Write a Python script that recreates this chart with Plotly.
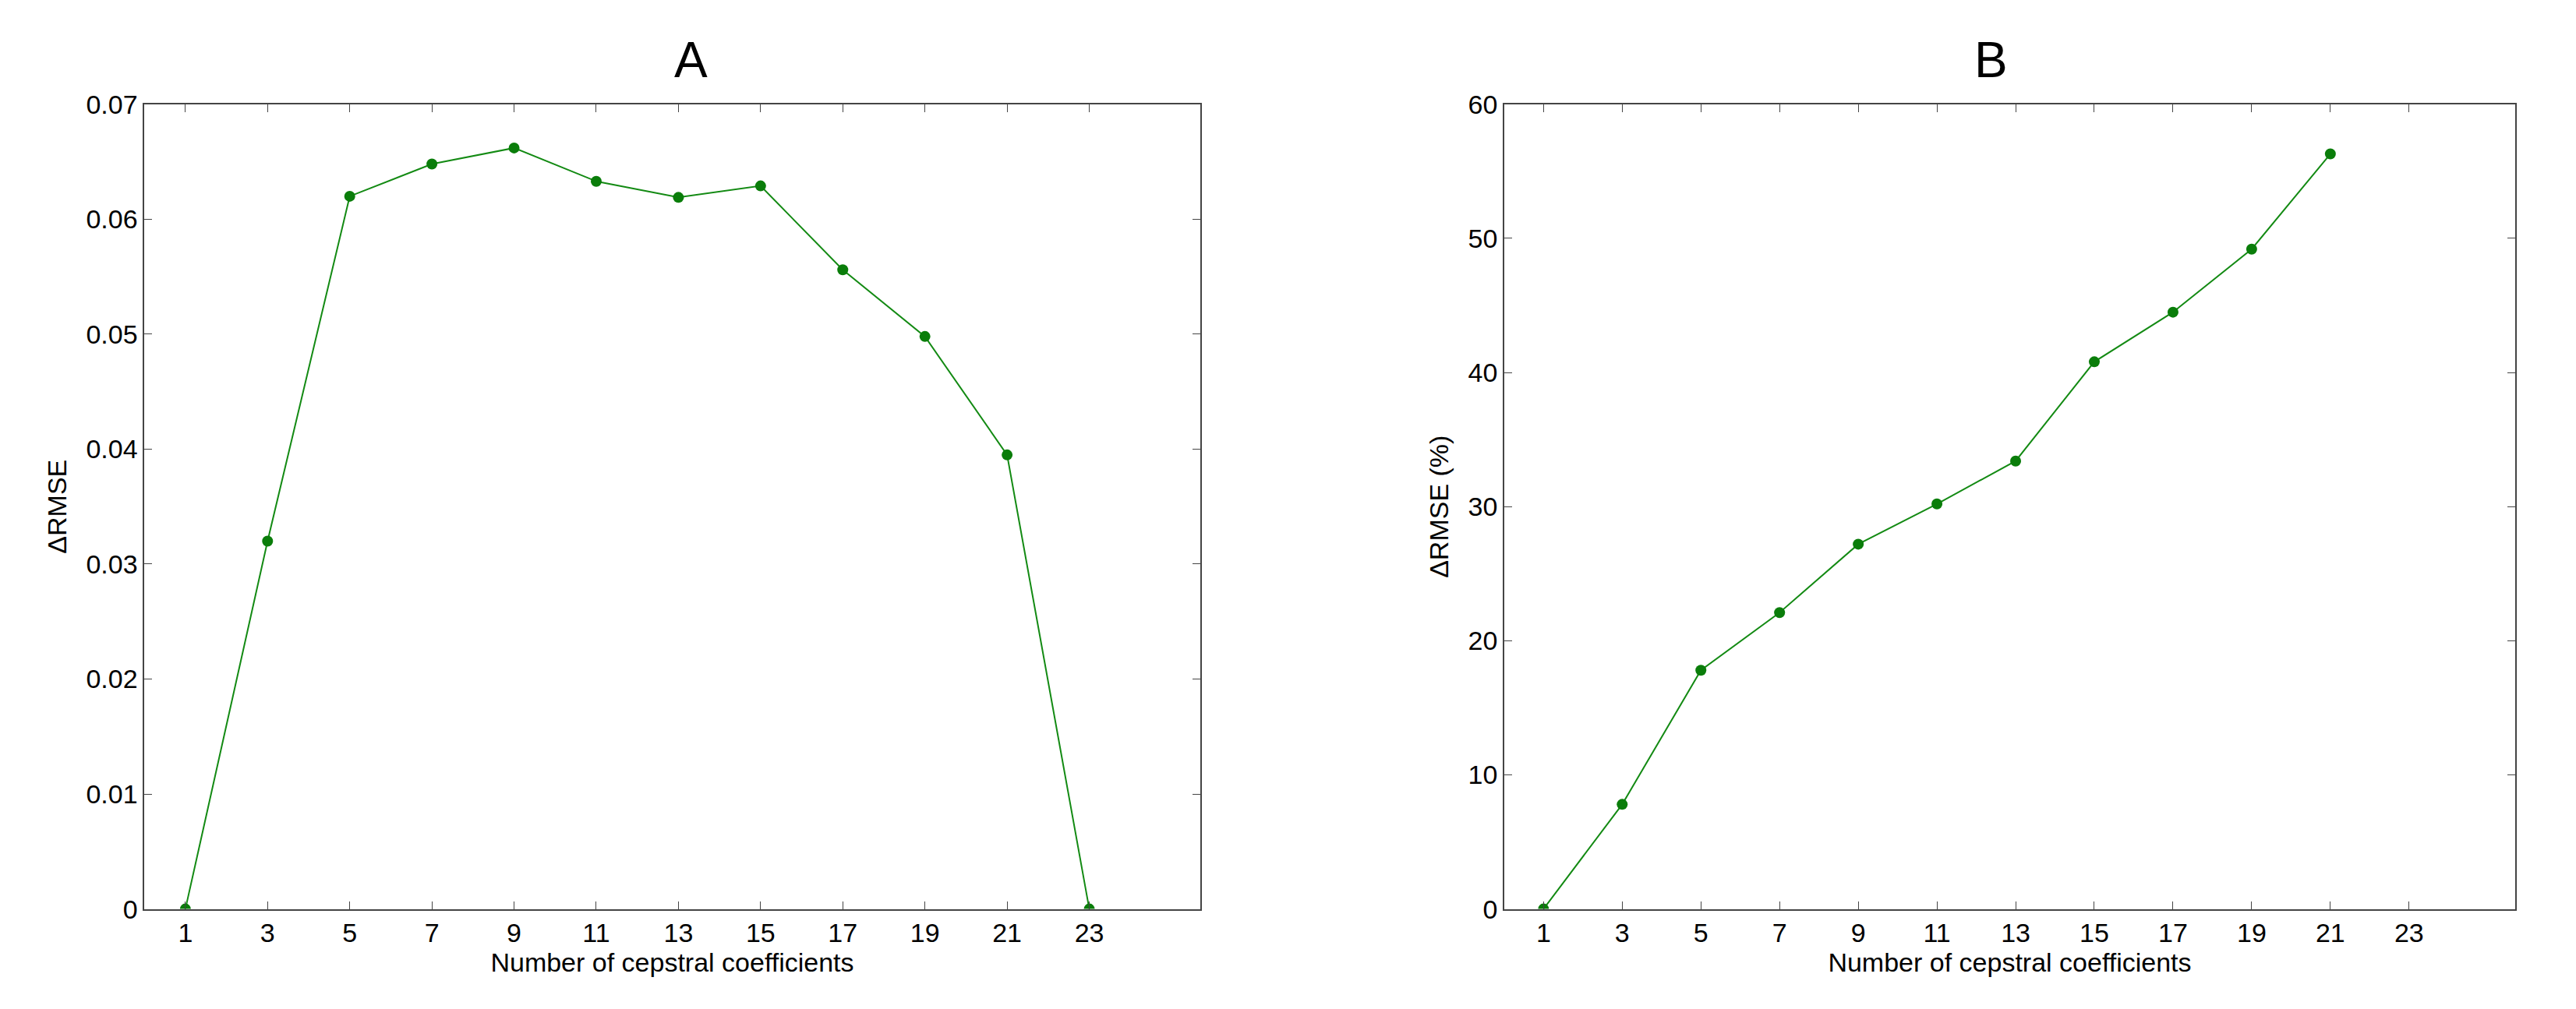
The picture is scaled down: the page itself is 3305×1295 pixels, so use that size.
import plotly.graph_objects as go
from plotly.subplots import make_subplots

x_a = [1, 3, 5, 7, 9, 11, 13, 15, 17, 19, 21, 23]
y_a = [0, 0.032, 0.062, 0.0648, 0.0662, 0.0633, 0.0619, 0.0629, 0.0556, 0.0498, 0.0395, 0]
x_b = [1, 3, 5, 7, 9, 11, 13, 15, 17, 19, 21]
y_b = [0, 7.8, 17.8, 22.1, 27.2, 30.2, 33.4, 40.8, 44.5, 49.2, 56.3]
ticks = [1, 3, 5, 7, 9, 11, 13, 15, 17, 19, 21, 23]
ticks_a_vals = [0, 0.01, 0.02, 0.03, 0.04, 0.05, 0.06, 0.07]
ticks_a_text = ["0", "0.01", "0.02", "0.03", "0.04", "0.05", "0.06", "0.07"]

fig = make_subplots(rows=1, cols=2)
for c, (x, y) in enumerate([(x_a, y_a), (x_b, y_b)], start=1):
    fig.add_trace(go.Scatter(x=x, y=y, mode="lines+markers",
                             line=dict(color="#138a13", width=2),
                             marker=dict(color="#0a7d0a", size=14)), row=1, col=c)

font = dict(family="Liberation Sans, Arial", size=34, color="black")
ax = dict(showgrid=False, zeroline=False, showline=True, linecolor="#444", linewidth=1.5,
          mirror="ticks", ticks="inside", ticklen=10, tickcolor="#444", tickfont=font)
fig.update_xaxes(**ax, range=[0, 25.7], tickvals=ticks,
                 title=dict(text="Number of cepstral coefficients", font=font, standoff=5))
fig.update_xaxes(domain=[0.0536, 0.4635], row=1, col=1)
fig.update_xaxes(domain=[0.5815, 0.974], row=1, col=2)
fig.update_yaxes(**ax)
fig.update_yaxes(range=[0, 0.07], tickvals=ticks_a_vals, ticktext=ticks_a_text,
                 title=dict(text="ΔRMSE", font=font, standoff=15), row=1, col=1)
fig.update_yaxes(range=[0, 60], dtick=10,
                 title=dict(text="ΔRMSE (%)", font=font, standoff=15), row=1, col=2)
tfont = dict(family="Liberation Sans, Arial", size=64, color="black")
fig.update_layout(width=3305, height=1295, showlegend=False,
                  plot_bgcolor="white", paper_bgcolor="white",
                  margin=dict(l=0, r=0, t=0, b=0),
                  yaxis=dict(domain=[0.0934, 0.915]), yaxis2=dict(domain=[0.0934, 0.915]),
                  annotations=[
                      dict(text="A", x=(0.0536 + 0.4635) / 2, y=0.93, xref="paper", yref="paper",
                           showarrow=False, yanchor="bottom", font=tfont),
                      dict(text="B", x=(0.5815 + 0.974) / 2, y=0.93, xref="paper", yref="paper",
                           showarrow=False, yanchor="bottom", font=tfont),
                  ])
fig.write_html("out.html")
